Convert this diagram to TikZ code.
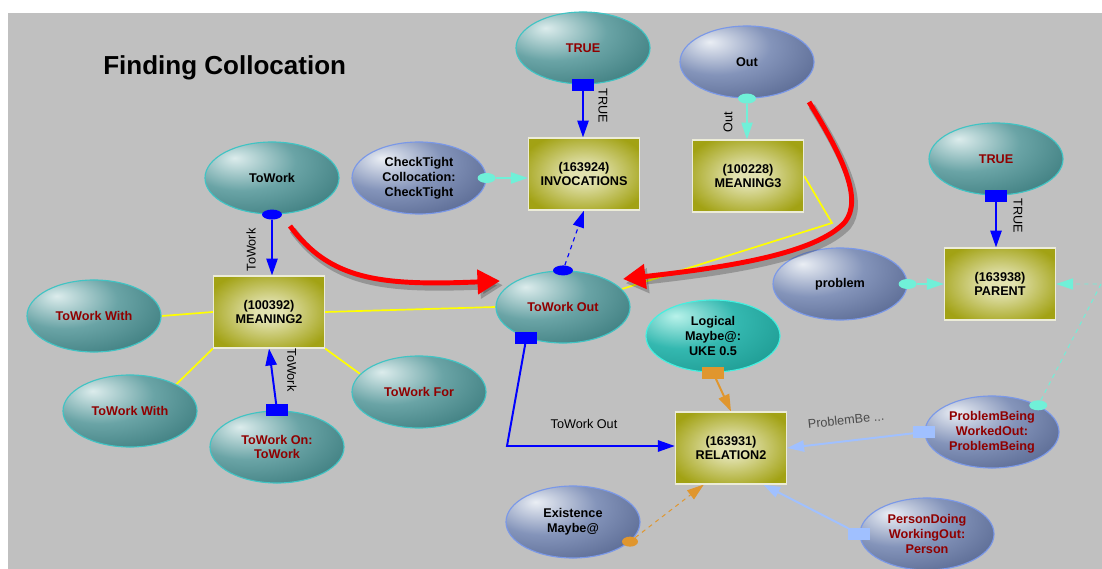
\documentclass[tikz,border=0pt]{standalone}
\usepackage{fontspec}
\setmainfont{Liberation Sans}
\usetikzlibrary{shapes.geometric,arrows.meta,positioning,calc}

\definecolor{bgGray}{HTML}{C0C0C0}
\definecolor{tealHi}{HTML}{DCECEC}
\definecolor{tealMid}{HTML}{6AA4A6}
\definecolor{tealLo}{HTML}{3A7A7C}
\definecolor{tealEdge}{HTML}{40C4C4}
\definecolor{slateHi}{HTML}{EAEEF4}
\definecolor{slateMid}{HTML}{8494BA}
\definecolor{slateLo}{HTML}{56668F}
\definecolor{slateEdge}{HTML}{7A98E8}
\definecolor{aquaHi}{HTML}{B8F2EA}
\definecolor{aquaMid}{HTML}{34B8B0}
\definecolor{aquaLo}{HTML}{1C9890}
\definecolor{aquaEdge}{HTML}{44F0E0}
\definecolor{oliveIn}{HTML}{E2E2B0}
\definecolor{oliveOut}{HTML}{A2A214}
\definecolor{boxEdge}{HTML}{ECECD8}
\definecolor{lblRed}{HTML}{900000}
\definecolor{linkBlue}{HTML}{0000FF}
\definecolor{linkCyan}{HTML}{70F0D8}
\definecolor{linkOrange}{HTML}{E0962E}
\definecolor{linkLight}{HTML}{A0C0FF}
\definecolor{linkYellow}{HTML}{FFFF00}
\definecolor{hintRed}{HTML}{FF0000}

\pgfdeclareradialshading{tealball}{\pgfpoint{-14bp}{14bp}}{color(0bp)=(tealHi); color(20bp)=(tealMid); color(42bp)=(tealLo); color(100bp)=(tealLo)}
\pgfdeclareradialshading{slateball}{\pgfpoint{-14bp}{14bp}}{color(0bp)=(slateHi); color(20bp)=(slateMid); color(42bp)=(slateLo); color(100bp)=(slateLo)}
\pgfdeclareradialshading{aquaball}{\pgfpoint{-14bp}{14bp}}{color(0bp)=(aquaHi); color(20bp)=(aquaMid); color(42bp)=(aquaLo); color(100bp)=(aquaLo)}
\pgfdeclareradialshading{olivebox}{\pgfpoint{0bp}{0bp}}{color(0bp)=(oliveIn); color(6bp)=(oliveIn); color(30bp)=(oliveOut); color(100bp)=(oliveOut)}

\pgfdeclarelayer{bg}
\pgfdeclarelayer{links}
\pgfsetlayers{bg,links,main}

\begin{document}
\begin{tikzpicture}[x=0.025cm,y=-0.025cm,
    nodefont/.style={font=\fontsize{9}{10.5}\selectfont\bfseries, align=center},
    tealnode/.style={ellipse, nodefont, draw=tealEdge, line width=0.8pt, shade, shading=tealball, minimum width=3.35cm, minimum height=1.8cm, inner sep=0pt},
    slatenode/.style={tealnode, draw=slateEdge, shading=slateball},
    aquanode/.style={tealnode, draw=aquaEdge, shading=aquaball},
    boxnode/.style={rectangle, nodefont, draw=boxEdge, line width=0.8pt, shade, shading=olivebox, minimum width=2.78cm, minimum height=1.8cm, inner sep=0pt},
    redlbl/.style={text=lblRed},
    linklbl/.style={font=\fontsize{9}{10}\selectfont, inner sep=0pt},
    spike/.style={-{Triangle[length=12pt,width=8pt]}},
    bluelink/.style={draw=linkBlue, line width=1.4pt, spike},
    cyanlink/.style={draw=linkCyan, line width=1pt, spike},
    orangelink/.style={draw=linkOrange, line width=1.4pt, spike},
    lightlink/.style={draw=linkLight, line width=1.4pt, spike},
    yellowlink/.style={draw=linkYellow, line width=1.2pt},
    redarrow/.style={draw=hintRed, line width=3.5pt, -{Triangle[length=16pt,width=17pt]},
      preaction={draw=black, opacity=0.22, line width=5pt, transform canvas={shift={(2pt,-3pt)}}}},
    bluesq/.style={rectangle, fill=linkBlue, minimum width=0.55cm, minimum height=0.3cm, inner sep=0pt},
    orangesq/.style={bluesq, fill=linkOrange},
    lightsq/.style={bluesq, fill=linkLight},
    bluedot/.style={ellipse, fill=linkBlue, minimum width=0.5cm, minimum height=0.25cm, inner sep=0pt},
    cyandot/.style={bluedot, fill=linkCyan, minimum width=0.45cm},
    orangedot/.style={bluedot, fill=linkOrange, minimum width=0.4cm}]

  \useasboundingbox (0,0) rectangle (1102,569);
  \begin{pgfonlayer}{bg}
    \fill[white] (0,0) rectangle (1102,569);
    \fill[bgGray] (8,13) rectangle (1102,569);
  \end{pgfonlayer}

  \node[font=\fontsize{18.5}{22}\selectfont\bfseries, anchor=west, inner sep=0pt] (title) at (103,68) {Finding Collocation};

  % top row
  \node[tealnode, redlbl] (trueA) at (583,48) {TRUE};
  \node[slatenode] (out) at (747,62) {Out};
  \node[slatenode] (check) at (419,178) {CheckTight\\Collocation:\\CheckTight};
  \node[boxnode] (inv) at (584,174) {(163924)\\INVOCATIONS};
  \node[boxnode] (mean3) at (748,176) {(100228)\\MEANING3};
  \node[tealnode] (towork) at (272,178) {ToWork};

  % left cluster
  \node[boxnode] (mean2) at (269,312) {(100392)\\MEANING2};
  \node[tealnode, redlbl] (withA) at (94,316) {ToWork With};
  \node[tealnode, redlbl] (withB) at (130,411) {ToWork With};
  \node[tealnode, redlbl] (workon) at (277,447) {ToWork On:\\ToWork};
  \node[tealnode, redlbl] (workfor) at (419,392) {ToWork For};

  % middle
  \node[tealnode, redlbl] (twout) at (563,307) {ToWork Out};
  \node[aquanode] (logic) at (713,336) {Logical\\Maybe@:\\UKE 0.5};
  \node[boxnode] (rel2) at (731,448) {(163931)\\RELATION2};
  \node[slatenode] (exist) at (573,522) {Existence\\Maybe@};

  % right
  \node[slatenode] (problem) at (840,284) {problem};
  \node[tealnode, redlbl] (trueB) at (996,159) {TRUE};
  \node[boxnode] (parent) at (1000,284) {(163938)\\PARENT};
  \node[slatenode, redlbl] (pbwo) at (992,432) {ProblemBeing\\WorkedOut:\\ProblemBeing};
  \node[slatenode, redlbl] (pdwo) at (927,534) {PersonDoing\\WorkingOut:\\Person};

  % link ends
  \node[bluesq] (sqTrueA) at (trueA.south) {};
  \node[bluesq] (sqTrueB) at (trueB.south) {};
  \node[bluesq] (sqOn) at (workon.north) {};
  \node[bluesq] (sqTwOut) at (twout.220) {};
  \node[orangesq] (sqLogic) at (logic.south) {};
  \node[lightsq] (sqProb) at (pbwo.west) {};
  \node[lightsq] (sqPerson) at (pdwo.west) {};
  \node[bluedot] (dotWork) at (towork.south) {};
  \node[bluedot] (dotTwOut) at (twout.north) {};
  \node[cyandot] (dotOut) at (out.south) {};
  \node[cyandot] (dotCheck) at (check.east) {};
  \node[cyandot] (dotProblem) at (problem.east) {};
  \node[cyandot] (dotProbB) at (pbwo.30) {};
  \node[orangedot] (dotExist) at (exist.341) {};

  \coordinate (ybend) at (832,223);
  \coordinate (tobend) at (507,446);
  \coordinate (pbCorner) at (1101,284);

  \begin{pgfonlayer}{links}
    \draw[bluelink] (sqTrueA) -- (sqTrueA |- inv.north);
    \draw[bluelink] (sqTrueB) -- (sqTrueB |- parent.north);
    \draw[bluelink] (dotWork) -- (dotWork |- mean2.north);
    \draw[bluelink] (sqOn) -- (mean2.south);
    \draw[bluelink, line width=0.8pt, dashed] (dotTwOut) -- (inv.south);
    \draw[bluelink] (sqTwOut) -- (tobend) -- (tobend -| rel2.west);
    \draw[cyanlink] (dotOut) -- (dotOut |- mean3.north);
    \draw[cyanlink] (dotCheck) -- (dotCheck -| inv.west);
    \draw[cyanlink] (dotProblem) -- (parent.west);
    \draw[cyanlink, line width=0.7pt, dashed] (dotProbB) -- (pbCorner) -- (parent.east);
    \draw[orangelink] (sqLogic) -- (rel2.north);
    \draw[orangelink, line width=0.7pt, dashed] (dotExist) -- ([xshift=-0.68cm]rel2.south);
    \draw[lightlink] (sqProb) -- (rel2.east);
    \draw[lightlink] (sqPerson) -- ([xshift=-0.6cm]rel2.south east);
    \draw[yellowlink] (mean2.west) -- (withA.east);
    \draw[yellowlink] (mean2.south west) -- (withB.30);
    \draw[yellowlink] (mean2.south east) -- (workfor.163);
    \draw[yellowlink] (mean2.east) -- (twout.west);
    \draw[yellowlink] (mean3.east) -- (ybend) -- (twout.17);
  \end{pgfonlayer}

  % link labels
  \node[linklbl, rotate=-90] (lblTrueA) at (603,106) {TRUE};
  \node[linklbl, rotate=-90] (lblTrueB) at (1018,216) {TRUE};
  \node[linklbl, rotate=90] (lblOut) at (728,122) {Out};
  \node[linklbl, rotate=90] (lblWorkA) at (251,250) {ToWork};
  \node[linklbl, rotate=-90] (lblWorkB) at (292,370) {ToWork};
  \node[linklbl] (lblTwOut) at (584,424) {ToWork Out};
  \node[linklbl, rotate=6, text=black!70] (lblProb) at (846,420) {ProblemBe ...};

  % hint arrows
  \coordinate (redA) at (290,226);
  \coordinate (redAtip) at (500,281);
  \coordinate (redB) at (809,102);
  \coordinate (redBtip) at (623,279);
  \draw[redarrow] (redA) .. controls (330,280) and (380,286) .. (redAtip);
  \draw[redarrow] (redB) .. controls (845,160) and (862,200) .. (845,222)
    .. controls (815,255) and (720,268) .. (redBtip);
\end{tikzpicture}
\end{document}
